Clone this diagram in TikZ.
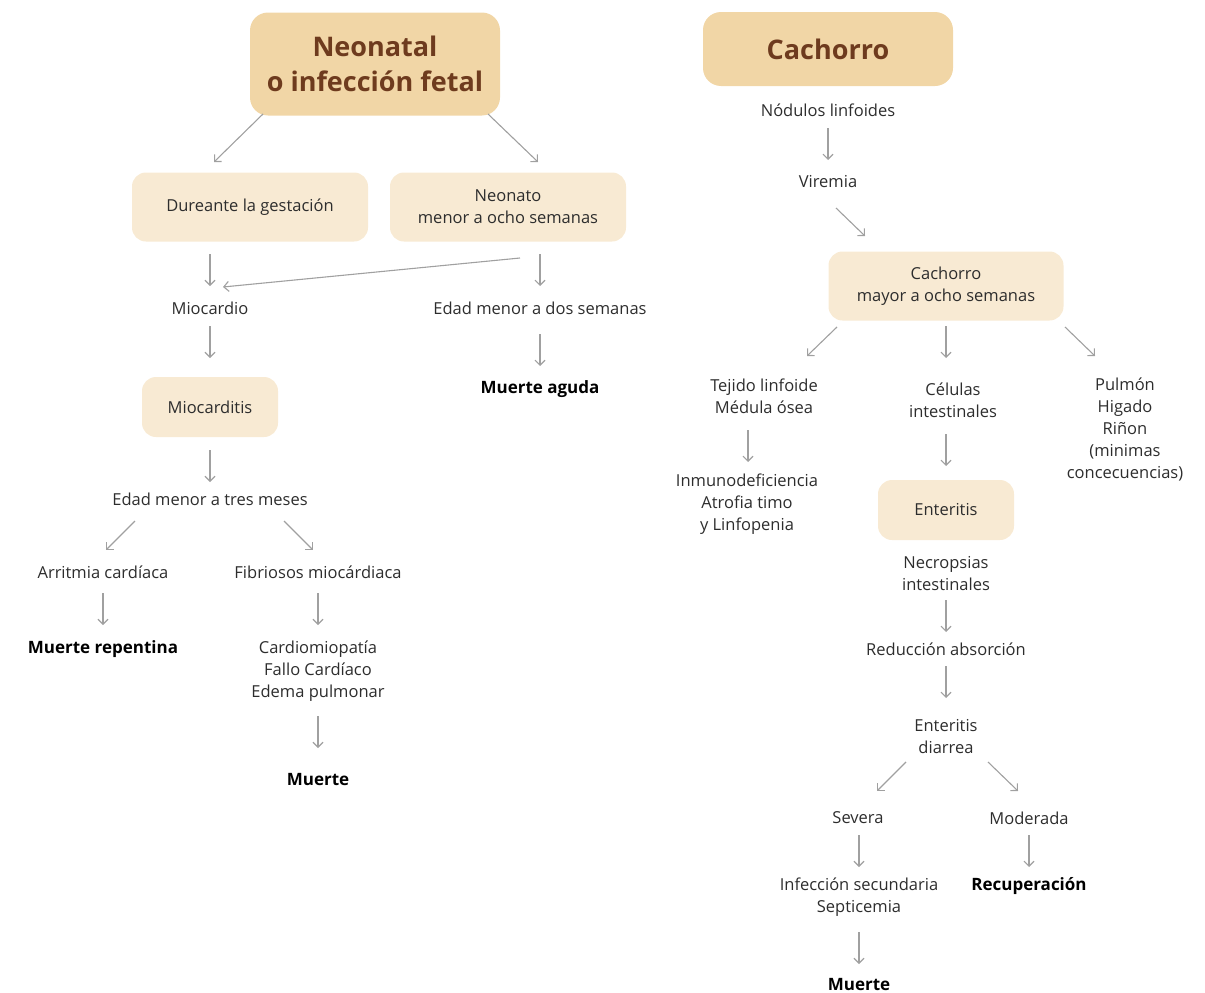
\documentclass[tikz,border=0pt]{standalone}
\usepackage{tikz}
\usetikzlibrary{arrows.meta, positioning}
\usepackage{fontspec}
\setmainfont{Open Sans}
\usepackage{xcolor}
\definecolor{titlefill}{RGB}{241,214,166}
\definecolor{boxfill}{RGB}{248,234,211}
\definecolor{titlebrown}{RGB}{110,59,30}
\definecolor{textgray}{RGB}{45,45,45}
\definecolor{arrowgray}{RGB}{160,160,160}

\begin{document}
\begin{tikzpicture}[
                x=1pt, y=-1pt,
                titlenode/.style={shape=rectangle, rounded corners=18pt, fill=titlefill, text=titlebrown, align=center, font=\fontsize{27}{35}\selectfont\bfseries, minimum width=250pt},
                boxnode/.style={shape=rectangle, rounded corners=14pt, fill=boxfill, text=textgray, align=center, font=\fontsize{16.5}{22}\selectfont, minimum height=62pt},
                textnode/.style={text=textgray, align=center, font=\fontsize{16.5}{22}\selectfont, inner sep=2pt},
                boldnode/.style={text=black, align=center, font=\fontsize{17}{22}\selectfont\bfseries, inner sep=2pt},
                arr/.style={-{Straight Barb[length=5pt,width=10pt]}, arrowgray, line width=1.1pt}
                ]
                \useasboundingbox (0,0) rectangle (1205,993);

                %% Neonatal
                \node[titlenode, minimum height=103pt] (neo) at (375,64) {Neonatal\\o infección fetal};
                \node[boxnode, minimum width=236pt, minimum height=69pt] (dur) at (250,207) {Dureante la gestación};
                \node[boxnode, minimum width=236pt, minimum height=69pt] (neon) at (508,207) {Neonato\\menor a ocho semanas};
                \node[textnode] (mio) at (210,308) {Miocardio};
                \node[textnode] (edad2) at (540,308) {Edad menor a dos semanas};
                \node[boldnode] (aguda) at (540,389) {Muerte aguda};
                \node[boxnode, minimum width=136pt, minimum height=60pt] (mioc) at (210,407) {Miocarditis};
                \node[textnode] (edad3) at (210,499) {Edad menor a tres meses};
                \node[textnode] (arrit) at (103,572) {Arritmia cardíaca};
                \node[textnode] (fibr) at (318,572) {Fibriosos miocárdiaca};
                \node[boldnode] (repent) at (103,649) {Muerte repentina};
                \node[textnode] (cardio) at (318,671) {Cardiomiopatía\\Fallo Cardíaco\\Edema pulmonar};
                \node[boldnode] (muerte1) at (318,780) {Muerte};

                %% Cachorro
                \node[titlenode, minimum height=74pt] (cach) at (828,49) {Cachorro};
                \node[textnode] (nod) at (828,110) {Nódulos linfoides};
                \node[textnode] (vire) at (828,182) {Viremia};
                \node[boxnode, minimum width=235pt, minimum height=69pt] (cach8) at (946,286) {Cachorro\\mayor a ocho semanas};
                \node[textnode] (tejido) at (764,396) {Tejido linfoide\\Médula ósea};
                \node[textnode] (celul) at (953,400) {Células\\intestinales};
                \node[textnode] (pulmon) at (1125,429) {Pulmón\\Higado\\Riñon\\(minimas\\concecuencias)};
                \node[textnode] (inmuno) at (747,504) {Inmunodeficiencia\\Atrofia timo\\y Linfopenia};
                \node[boxnode, minimum width=136pt, minimum height=60pt] (enter) at (946,510) {Enteritis};
                \node[textnode] (necro) at (946,574) {Necropsias\\intestinales};
                \node[textnode] (reduc) at (946,649) {Reducción absorción};
                \node[textnode] (diarrea) at (946,737) {Enteritis\\diarrea};
                \node[textnode] (severa) at (858,818) {Severa};
                \node[textnode] (moder) at (1029,818) {Moderada};
                \node[textnode] (infec) at (859,897) {Infección secundaria\\Septicemia};
                \node[boldnode] (recup) at (1029,886) {Recuperación};
                \node[boldnode] (muerte2) at (859,985) {Muerte};

                %% Arrows, left
                \draw[arr] ([shift={(-112,50)}]neo.center) -- ([shift={(-36,-45)}]dur.center);
                \draw[arr] ([shift={(113,50)}]neo.center) -- ([shift={(30,-45)}]neon.center);
                \draw[arr] ([shift={(-40,47)}]dur.center) -- ([shift={(0,-22)}]mio.center);
                \draw[arr] ([shift={(12,51)}]neon.center) -- ([shift={(13,-21)}]mio.center);
                \draw[arr] ([shift={(32,47)}]neon.center) -- ([shift={(0,-22)}]edad2.center);
                \draw[arr] ([shift={(0,18)}]mio.center) -- ([shift={(0,-49)}]mioc.center);
                \draw[arr] ([shift={(0,26)}]edad2.center) -- ([shift={(0,-23)}]aguda.center);
                \draw[arr] ([shift={(0,43)}]mioc.center) -- ([shift={(0,-17)}]edad3.center);
                \draw[arr] ([shift={(-75,22)}]edad3.center) -- ([shift={(3,-22)}]arrit.center);
                \draw[arr] ([shift={(74,22)}]edad3.center) -- ([shift={(-5,-22)}]fibr.center);
                \draw[arr] ([shift={(0,21)}]arrit.center) -- ([shift={(0,-24)}]repent.center);
                \draw[arr] ([shift={(0,21)}]fibr.center) -- ([shift={(0,-46)}]cardio.center);
                \draw[arr] ([shift={(0,45)}]cardio.center) -- ([shift={(0,-32)}]muerte1.center);

                %% Arrows, right
                \draw[arr] ([shift={(0,18)}]nod.center) -- ([shift={(0,-22)}]vire.center);
                \draw[arr] ([shift={(8,26)}]vire.center) -- ([shift={(-81,-50)}]cach8.center);
                \draw[arr] ([shift={(-109,41)}]cach8.center) -- ([shift={(43,-40)}]tejido.center);
                \draw[arr] ([shift={(0,40)}]cach8.center) -- ([shift={(-7,-42)}]celul.center);
                \draw[arr] ([shift={(119,41)}]cach8.center) -- ([shift={(-30,-73)}]pulmon.center);
                \draw[arr] ([shift={(-16,34)}]tejido.center) -- ([shift={(1,-42)}]inmuno.center);
                \draw[arr] ([shift={(-7,34)}]celul.center) -- ([shift={(0,-44)}]enter.center);
                \draw[arr] ([shift={(0,26)}]necro.center) -- ([shift={(0,-17)}]reduc.center);
                \draw[arr] ([shift={(0,17)}]reduc.center) -- ([shift={(0,-39)}]diarrea.center);
                \draw[arr] ([shift={(-40,25)}]diarrea.center) -- ([shift={(19,-27)}]severa.center);
                \draw[arr] ([shift={(42,25)}]diarrea.center) -- ([shift={(-11,-27)}]moder.center);
                \draw[arr] ([shift={(1,17)}]severa.center) -- ([shift={(0,-30)}]infec.center);
                \draw[arr] ([shift={(0,17)}]moder.center) -- ([shift={(0,-19)}]recup.center);
                \draw[arr] ([shift={(0,35)}]infec.center) -- ([shift={(0,-21)}]muerte2.center);
\end{tikzpicture}
\end{document}
